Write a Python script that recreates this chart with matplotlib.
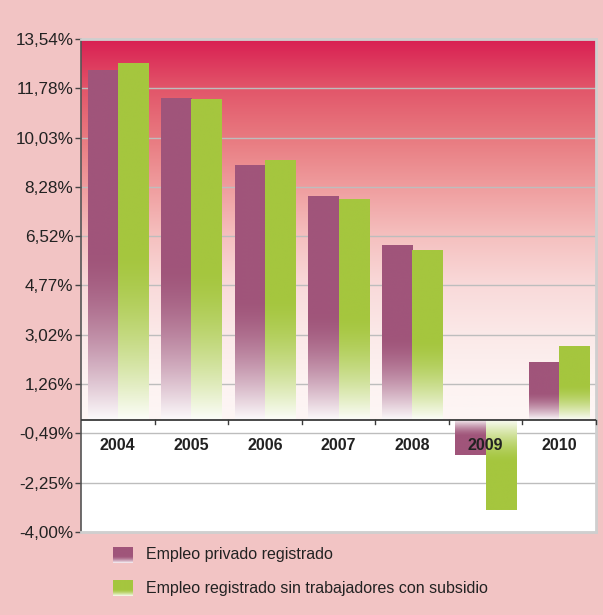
import numpy as np
import matplotlib
matplotlib.use("Agg")
import matplotlib.pyplot as plt
from matplotlib.colors import LinearSegmentedColormap, to_rgb

years = ["2004", "2005", "2006", "2007", "2008", "2009", "2010"]
privado = [12.43, 11.44, 9.05, 7.94, 6.20, -1.25, 2.06]
sin_subsidio = [12.70, 11.40, 9.23, 7.84, 6.02, -3.22, 2.63]
series_names = ["Empleo privado registrado",
                "Empleo registrado sin trabajadores con subsidio"]
yticks = [-4.00, -2.25, -0.49, 1.26, 3.02, 4.77, 6.52, 8.28, 10.03, 11.78, 13.54]

PURPLE = "#a0557a"
GREEN = "#a5c63e"
FIG_BG = "#f2c4c4"

plt.rcParams['font.family'] = ['Liberation Sans', 'DejaVu Sans']

fig = plt.figure(figsize=(6.03, 6.15), dpi=100, facecolor=FIG_BG)
ax = fig.add_axes([81/603, 1-532/615, (596-81)/603, (532-39)/615])
ax.set_facecolor("white")

ymin, ymax = yticks[0], yticks[-1]
n = len(years)
x = np.arange(n)

# background gradient in positive region
bg_cmap = LinearSegmentedColormap.from_list("bg", [
    (0.0, "#fdf6f5"), (0.093, "#fdf3f2"), (0.223, "#fbe9e8"), (0.352, "#f9dada"),
    (0.482, "#f5c0bf"), (0.612, "#ef9d9e"), (0.741, "#e87a80"),
    (0.870, "#e2566a"), (1.0, "#d91f52")])
grad = np.linspace(0, 1, 256).reshape(-1, 1)
ax.imshow(grad, cmap=bg_cmap, origin="lower", aspect="auto",
          extent=[-0.5, n - 0.5, 0, ymax], zorder=0, interpolation="bicubic")

# gridlines
for t in yticks:
    ax.axhline(t, color="#bdbdbd", lw=1.0, zorder=1)

w = 0.41
bars1 = ax.bar(x - w/2, privado, width=w, color="none", edgecolor="none", zorder=3)
bars2 = ax.bar(x + w/2, sin_subsidio, width=w, color="none", edgecolor="none", zorder=3)


def gradient_img(color, span=0.47, base=0.03):
    c = np.array(to_rgb(color))
    t = np.linspace(0, 1, 256)
    s = np.clip(t / span, 0, 1)
    frac = base + (1 - base) * (1 - (1 - s) ** 1.5)
    img = 1 - frac[:, None] * (1 - c[None, :])
    return img[:, None, :]


for bars, col in ((bars1, PURPLE), (bars2, GREEN)):
    for b in bars:
        x0 = b.get_x()
        x1 = x0 + b.get_width()
        h = b.get_height()
        y0 = b.get_y()
        pos = h >= 0
        img = gradient_img(col)
        if not pos:
            img = img[::-1]
        lo, hi = (y0, y0 + h) if pos else (y0 + h, y0)
        im = ax.imshow(img, origin="lower", aspect="auto",
                       extent=[x0, x1, lo, hi], zorder=3, interpolation="bilinear")
        im.set_clip_path(b)

ax.set_xlim(-0.5, n - 0.5)
ax.set_ylim(ymin, ymax)

# zero line with category ticks
ax.axhline(0, color="#3a3a3a", lw=1.3, zorder=5)
for b in np.arange(n + 1) - 0.5:
    if b > -0.5:
        ax.plot([b, b], [0, -0.15], color="#3a3a3a", lw=1.0, zorder=5, clip_on=False)

for i, yl in enumerate(years):
    ax.text(i, -0.92, yl, ha="center", va="center", fontsize=11.5,
            fontweight="bold", color="#222222", zorder=6)

ax.set_xticks([])
ax.set_yticks(yticks)
ax.set_yticklabels([f"{v:.2f}".replace(".", ",") + "%" for v in yticks],
                   fontsize=12.3, color="#222222")
ax.tick_params(axis="y", length=4, width=1, color="#444444", pad=1.5)

for s in ("top", "right", "bottom"):
    ax.spines[s].set_color("#cfcfcf")
    ax.spines[s].set_linewidth(2)
ax.spines["left"].set_color("#555555")
ax.spines["left"].set_linewidth(1.2)

# legend
for i, (name, col) in enumerate(zip(series_names, (PURPLE, GREEN))):
    yc = 555 + i * 33
    lax = fig.add_axes([113/603, 1 - (yc + 8)/615, 20/603, 16/615])
    lax.imshow(gradient_img(col, span=0.4, base=0.05), origin="lower",
               aspect="auto", interpolation="bilinear")
    lax.axis("off")
    fig.text(146/603, 1 - yc/615, name, fontsize=11.5, color="#222222",
             va="center", ha="left")

fig.savefig("out.png", dpi=100, facecolor=FIG_BG)
